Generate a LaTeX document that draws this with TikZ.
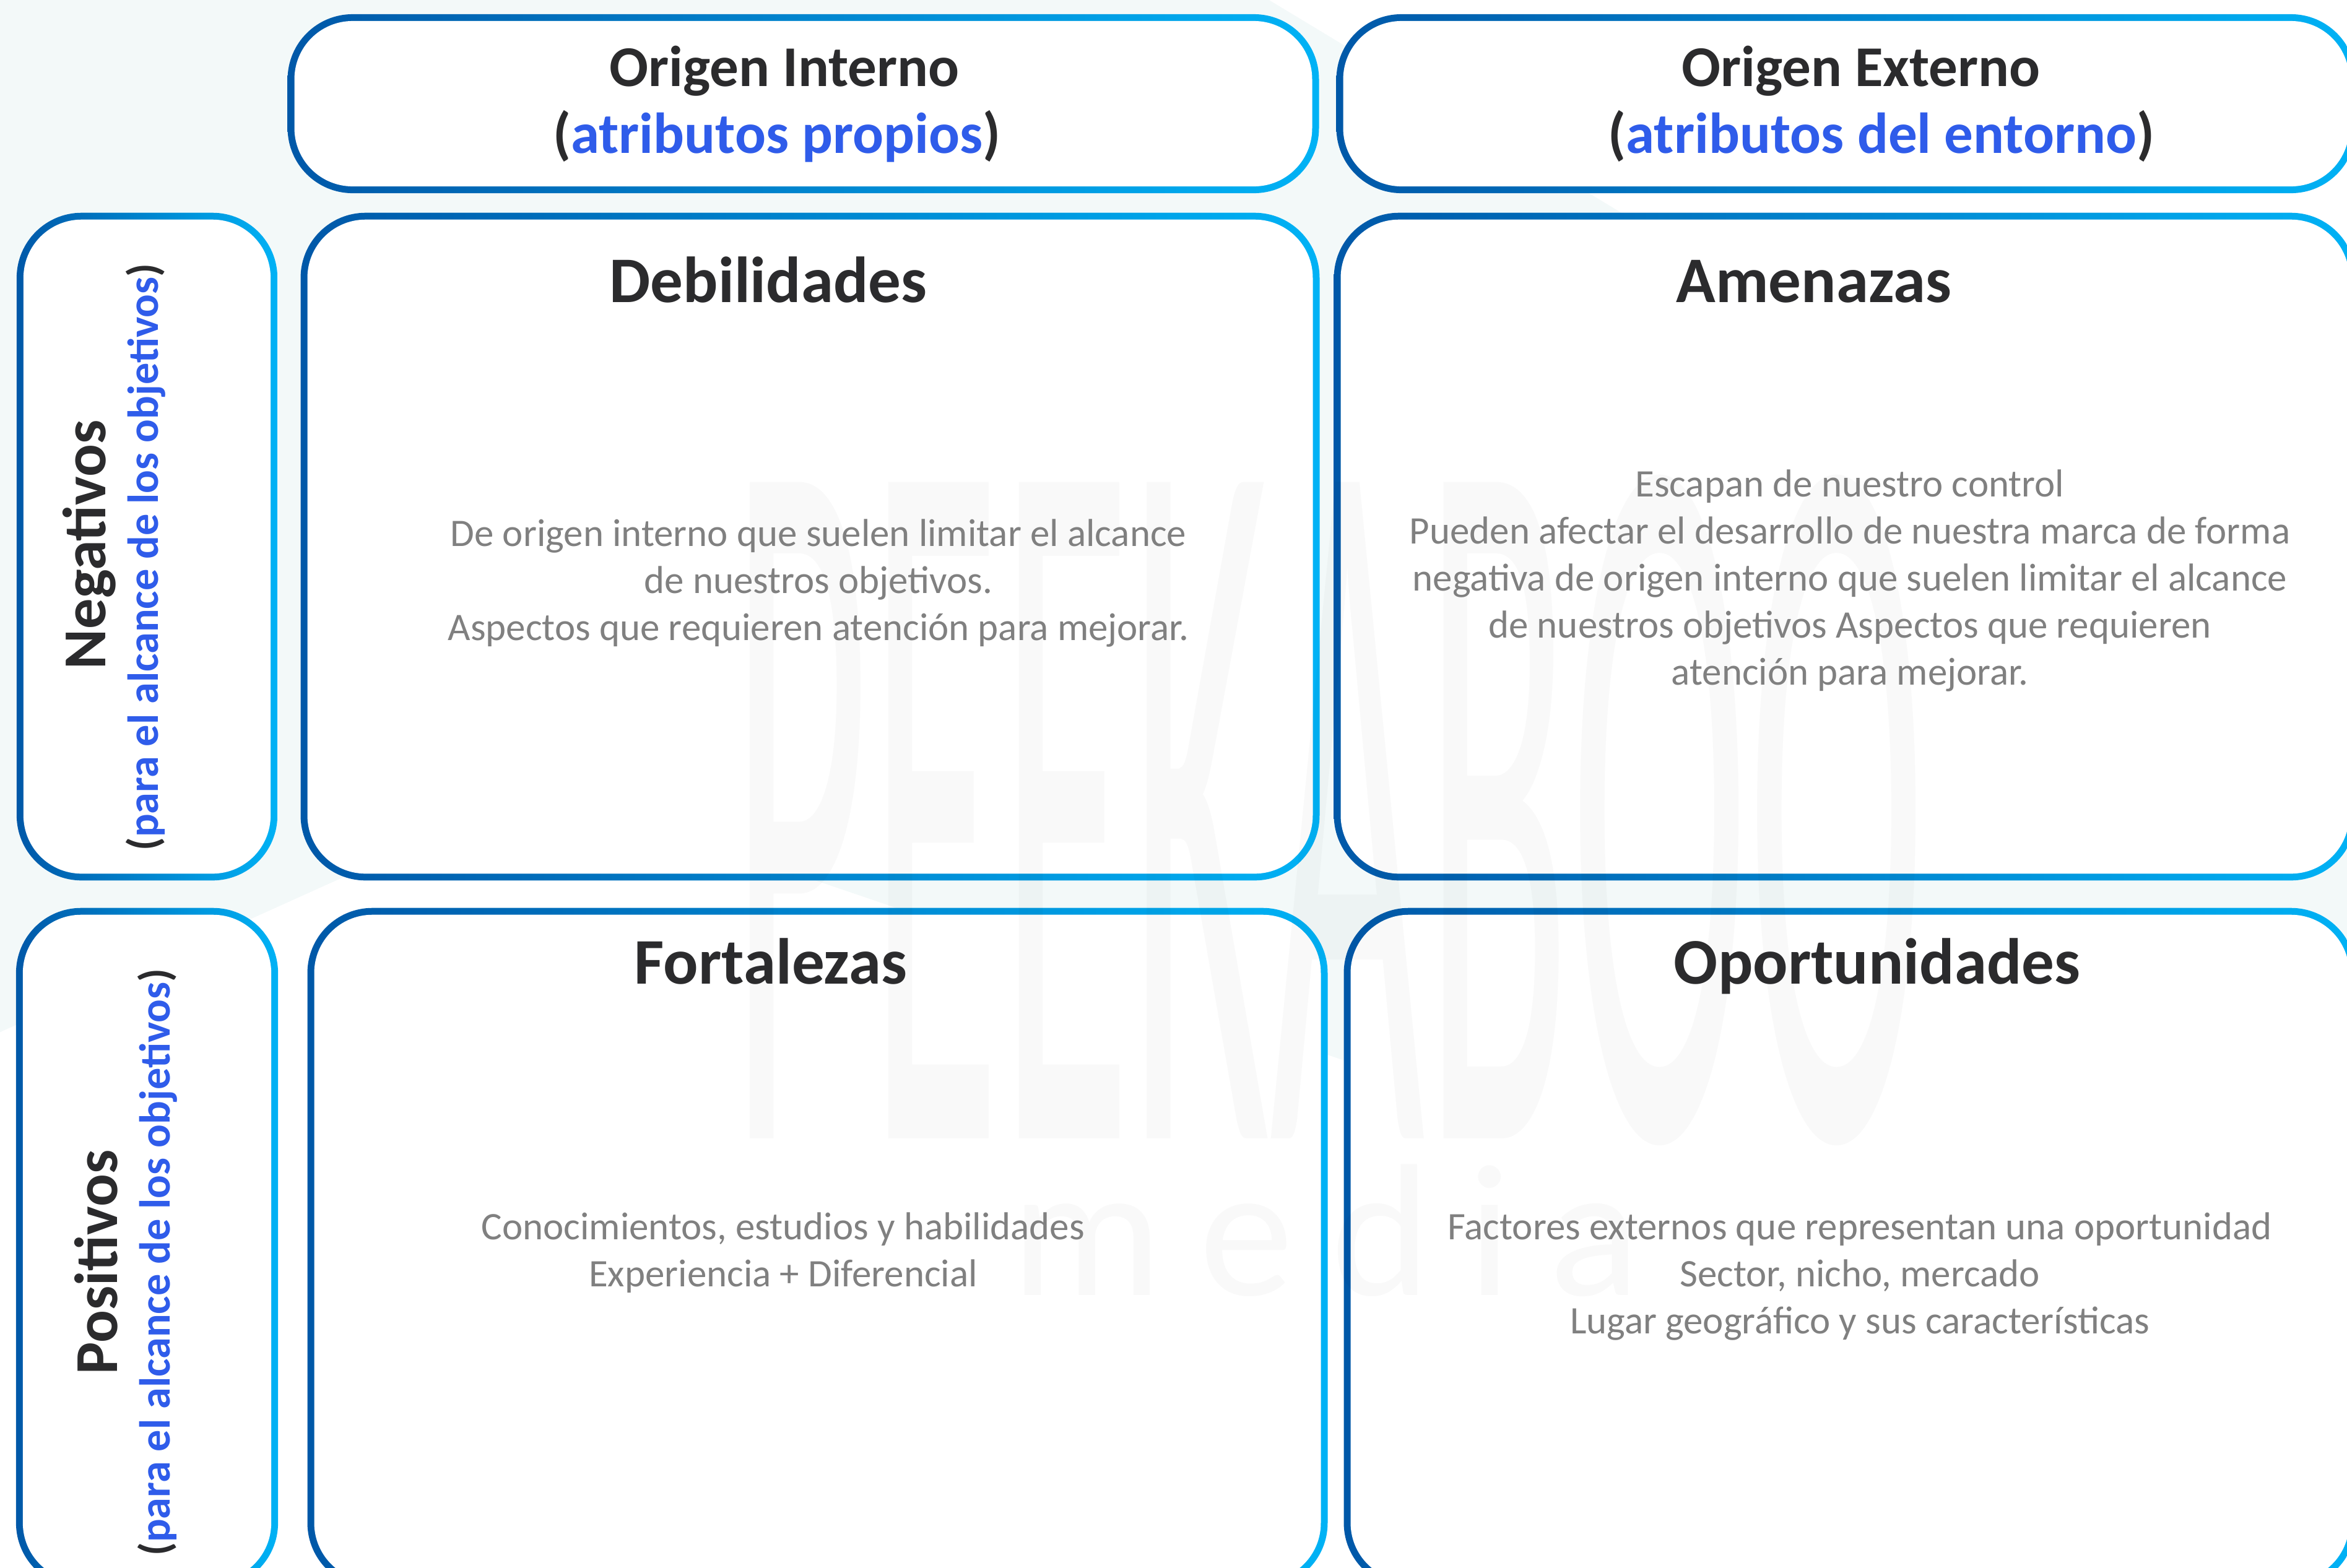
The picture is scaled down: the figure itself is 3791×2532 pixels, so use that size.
\documentclass[tikz,border=0pt]{standalone}
\usepackage{fontspec}
\setmainfont{Carlito}
\usetikzlibrary{positioning}
\definecolor{swotdark}{RGB}{0,88,168}
\definecolor{swotlight}{RGB}{0,178,245}
\definecolor{swotink}{RGB}{43,43,45}
\definecolor{swotblue}{RGB}{47,92,234}
\definecolor{swotgray}{RGB}{128,128,128}
\definecolor{swotbg}{RGB}{243,249,249}

\begin{document}
\begin{tikzpicture}[x=0.01cm, y=-0.01cm,
    cell/.style={rounded corners=1.05cm, inner sep=0pt, outer sep=0pt, fill=white,
      path picture={
        \shade[left color=swotdark, right color=swotlight]
          (path picture bounding box.south west) rectangle (path picture bounding box.north east);
        \fill[white, rounded corners=0.94cm]
          ([shift={(0.11cm,0.11cm)}]path picture bounding box.south west) rectangle
          ([shift={(-0.11cm,-0.11cm)}]path picture bounding box.north east);
      }},
    hdr/.style={font=\bfseries\fontsize{26.5}{30.7}\selectfont, text=swotink, inner sep=0pt, anchor=base},
    ttl/.style={font=\bfseries\fontsize{29.9}{34}\selectfont, text=swotink, inner sep=0pt, anchor=base},
    bodytext/.style={font=\fontsize{17.9}{21.6}\selectfont, text=swotgray, align=center, inner sep=0pt, anchor=north},
    sidettl/.style={font=\bfseries\fontsize{28}{32}\selectfont, text=swotink, inner sep=0pt, rotate=90, anchor=base},
    sidesub/.style={font=\bfseries\fontsize{20}{24}\selectfont, text=swotink, inner sep=0pt, rotate=90, anchor=base},
    wmark/.style={text=black, text opacity=0.022, inner sep=0pt, anchor=base}
  ]
    \useasboundingbox (0,0) rectangle (3791,2532);

    % Background
    \fill[swotbg] (0,0) rectangle (3791,2532);
    \fill[white] (2050,0) -- (3800,0) -- (3800,1057) -- cycle;
    \fill[white] (876,1272) -- (3800,2268) -- (3800,2540) -- (-10,2540) -- (-10,1672) -- cycle;

    % Header cells
    \node[cell, minimum width=16.65cm, minimum height=2.89cm] (hdrint) at (1297.5,167.5) {};
    \node[cell, minimum width=16.46cm, minimum height=2.89cm] (hdrext) at (2982,167.5) {};

    % Row labels
    \node[cell, minimum width=4.21cm, minimum height=10.78cm] (neg) at (237.5,883) {};
    \node[cell, minimum width=4.23cm, minimum height=10.98cm] (pos) at (237.5,2016) {};

    % SWOT cells
    \node[cell, minimum width=16.45cm, minimum height=10.78cm] (deb) at (1308.5,883) {};
    \node[cell, minimum width=16.50cm, minimum height=10.78cm] (ame) at (2980,883) {};
    \node[cell, minimum width=16.47cm, minimum height=10.98cm] (fort) at (1320.5,2016) {};
    \node[cell, minimum width=16.34cm, minimum height=10.98cm] (opor) at (2988,2016) {};

    % Watermark
    \node[wmark, font=\fontsize{100}{100}\selectfont, xscale=1.23, yscale=4.7] (wmtop) at (2145,1839) {PEEKABOO};
    \node[wmark, font=\fontsize{86.7}{86.7}\selectfont\addfontfeature{LetterSpace=20}] (wmbot) at (2141,2092) {media};

    % Header texts
    \node[hdr] (intline) at (1267,139) {Origen Interno};
    \node[hdr] (intsub) at (1255,247) {(\textcolor{swotblue}{atributos propios})};
    \node[hdr] (extline) at (3006,139) {Origen Externo};
    \node[hdr] (extsub) at (3039,247) {(\textcolor{swotblue}{atributos del entorno})};

    % Row label texts
    \node[sidettl] (negttl) at (170,880) {Negativos};
    \node[sidesub] (negsub) at (255,900) {(\textcolor{swotblue}{para el alcance de los objetivos})};
    \node[sidettl] (posttl) at (189,2039) {Positivos};
    \node[sidesub] (possub) at (274,2039) {(\textcolor{swotblue}{para el alcance de los objetivos})};

    % Titles
    \node[ttl] (debttl) at (1241,488) {Debilidades};
    \node[ttl] (amettl) at (2930,488) {Amenazas};
    \node[ttl] (fortttl) at (1245,1589) {Fortalezas};
    \node[ttl] (oporttl) at (3032,1589) {Oportunidades};

    % Descriptions
    \node[bodytext] (debtxt) at (1322,838) {De origen interno que suelen limitar el alcance\\de nuestros objetivos.\\Aspectos que requieren atención para mejorar.};
    \node[bodytext] (ametxt) at (2988,758) {Escapan de nuestro control\\Pueden afectar el desarrollo de nuestra marca de forma\\negativa de origen interno que suelen limitar el alcance\\de nuestros objetivos Aspectos que requieren\\atención para mejorar.};
    \node[bodytext] (forttxt) at (1265,1958) {Conocimientos, estudios y habilidades\\Experiencia + Diferencial};
    \node[bodytext] (oportxt) at (3004,1958) {Factores externos que representan una oportunidad\\Sector, nicho, mercado\\Lugar geográfico y sus características};
\end{tikzpicture}
\end{document}
